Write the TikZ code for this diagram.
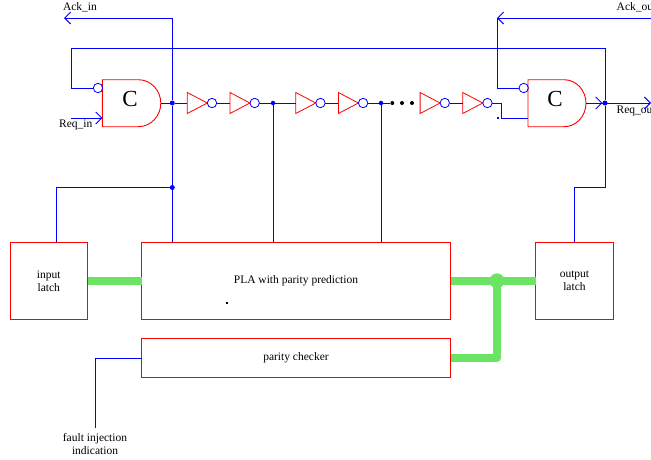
\documentclass[tikz,border=0pt]{standalone}
\usepackage{fontspec}
\setmainfont{Liberation Serif}
\usepackage{tikz}
\usetikzlibrary{positioning}
\usetikzlibrary{arrows.meta}
\usetikzlibrary{shapes.geometric}

\begin{document}
\begin{tikzpicture}[x=1pt, y=-1pt, node distance=13.25pt, font=\fontsize{11.5}{13}\selectfont]

\tikzstyle{block}=[rectangle, draw=red, line width=0.9pt, outer sep=0pt,
  minimum height=77pt, align=center]
\tikzstyle{inv}=[isosceles triangle, isosceles triangle apex angle=55.4,
  isosceles triangle stretches, draw=red, line width=0.8pt, inner sep=0pt,
  outer sep=0pt, minimum width=21pt, minimum height=20pt]
\tikzstyle{bubble}=[circle, draw=blue, line width=0.8pt, inner sep=0pt,
  outer sep=0pt, minimum size=9.4pt]
\tikzstyle{wire}=[draw=blue, line width=0.9pt]
\tikzstyle{arrsig}=[wire, -{Straight Barb[length=6pt,width=12pt]}]
\tikzstyle{bus}=[draw={rgb,255:red,108;green,228;blue,99}, line width=7.5pt]
\tikzstyle{junction}=[circle, fill=blue, inner sep=0pt, minimum size=5pt]
\tikzstyle{dotblack}=[circle, fill=black, inner sep=0pt, minimum size=4pt]
\tikzstyle{speck}=[rectangle, inner sep=0pt, minimum size=1.4pt]
\tikzstyle{lbl}=[inner sep=0pt, align=center]

\useasboundingbox (0,0) rectangle (651,459);

% C elements
\coordinate (Cin) at (102.3,79.7);
\coordinate (Cout) at (528,79.7);
\draw [draw=red, line width=0.9pt] (Cin) -- ++(36,0)
  arc [start angle=90, end angle=-90, x radius=22.5pt, y radius=23.5pt]
  -- ++(-36,0) -- cycle;
\draw [draw=red, line width=0.9pt] (Cout) -- ++(36,0)
  arc [start angle=90, end angle=-90, x radius=22pt, y radius=23.5pt]
  -- ++(-36,0) -- cycle;
\node [lbl, font=\fontsize{23}{25}\selectfont] (cinlabel) at (130,98.5) {C};
\node [lbl, font=\fontsize{23}{25}\selectfont] (coutlabel) at (555,98.5) {C};
\node [bubble] (cinbub) at (98,88) {};
\node [bubble] (coutbub) at (523.7,88) {};
\coordinate (cinq) at (160.8,103);
\coordinate (coutq) at (586,103);
\coordinate (coutb) at (528,118);

% inverter chain
\node [inv, anchor=west] (inva) at (187.3,103) {};
\node [bubble, right=0pt of inva.apex] (buba) {};
\node [inv, right=of buba] (invb) {};
\node [bubble, right=0pt of invb.apex] (bubb) {};
\node [inv, right=36.4pt of bubb] (invc) {};
\node [bubble, right=0pt of invc.apex] (bubc) {};
\node [inv, right=of bubc] (invd) {};
\node [bubble, right=0pt of invd.apex] (bubd) {};
\node [inv, right=52.3pt of bubd] (inve) {};
\node [bubble, right=0pt of inve.apex] (bube) {};
\node [inv, right=of bube] (invf) {};
\node [bubble, right=0pt of invf.apex] (bubf) {};
\node [dotblack] (dota) at (392.3,103) {};
\node [dotblack] (dotb) at (402,103) {};
\node [dotblack] (dotc) at (412,103) {};

% blocks
\node [block, minimum width=77.5pt, anchor=north west] (inlatch) at (10,242.3)
  {input\\latch};
\node [block, minimum width=309pt, right=54pt of inlatch] (pla)
  {PLA with parity prediction};
\node [block, minimum width=77.5pt, right=85.2pt of pla] (outlatch)
  {output\\latch};
\node [block, minimum width=309pt, minimum height=39.4pt, below=19pt of pla] (checker)
  {parity checker};

% junctions
\node [junction] (jinq) at (172.3,103) {};
\node [junction] (jlatch) at (172.3,187.5) {};
\node [junction, minimum size=4.5pt] (jplb) at (273,103) {};
\node [junction, minimum size=4.5pt] (jplc) at (381,103) {};
\node [junction] (joutq) at (605,103) {};

% labels
\node [lbl] (ackin) at (80,7) {Ack\_in};
\node [lbl] (reqin) at (75.7,125) {Req\_in};
\node [lbl, anchor=west] (ackout) at (616.5,7.5) {Ack\_out};
\node [lbl, anchor=west] (reqout) at (616.5,111) {Req\_out};
\node [lbl] (fault) at (95,444) {fault injection\\indication};

% handshake wires
\coordinate (ackinend) at (64,18);
\coordinate (ackinturn) at (172.3,18);
\coordinate (ackoutstart) at (651,18);
\coordinate (ackoutend) at (497,18);
\coordinate (reqinstart) at (71,118);
\coordinate (reqoutend) at (651,103);
\coordinate (fbleft) at (71.7,48.5);
\coordinate (fbright) at (605,48.5);

\draw [arrsig] (jinq) -- (ackinturn) -- (ackinend);
\draw [arrsig] (ackoutstart) -- (ackoutend);
\draw [wire] (coutbub) -| (ackoutend);
\draw [arrsig] (reqinstart) -- (reqinstart -| Cin);
\draw [wire] (cinbub) -| (fbleft) -- (fbright) -- (joutq);
\draw [wire] (jinq) -- (pla.north -| jinq);
\draw [arrsig] (coutq) -- (reqoutend);
\draw [arrsig] (coutq) -- (joutq);

% chain wires
\draw [wire] (cinq) -- (jinq) -- (inva);
\draw [wire] (buba) -- (invb);
\draw [wire] (bubb) -- (jplb) -- (invc);
\draw [wire] (bubc) -- (invd);
\draw [wire] (bubd) -- (jplc) -- (dota);
\draw [wire] (bube) -- (invf);
\draw [wire] (bubf) -- (501,103) -- (501,118) -- (coutb);

% down to the blocks
\draw [wire] (jlatch) -- (56,187.5) -- (inlatch.north -| 56,0);
\draw [wire] (jplb) -- (pla.north -| jplb);
\draw [wire] (jplc) -- (pla.north -| jplc);
\draw [wire] (joutq) -- (605,187.5) -- (574,187.5) -- (outlatch.north -| 574,0);

% fault line
\draw [wire] (checker.west) -- (95,358) -- (95,428);

% green buses
\draw [bus] (inlatch) -- (pla);
\draw [bus] (pla) -- (outlatch);
\coordinate (busjoin) at (pla.east -| 497,0);
\draw [bus, line join=round] (checker.east) -| (busjoin);
\node [circle, inner sep=0pt, minimum size=15pt, fill={rgb,255:red,108;green,228;blue,99}] (busdot) at (busjoin) {};

% stray specks
\node [speck, fill=black] (specka) at (227,303) {};
\node [speck, fill=blue] (speckb) at (498,118) {};

\end{tikzpicture}
\end{document}
